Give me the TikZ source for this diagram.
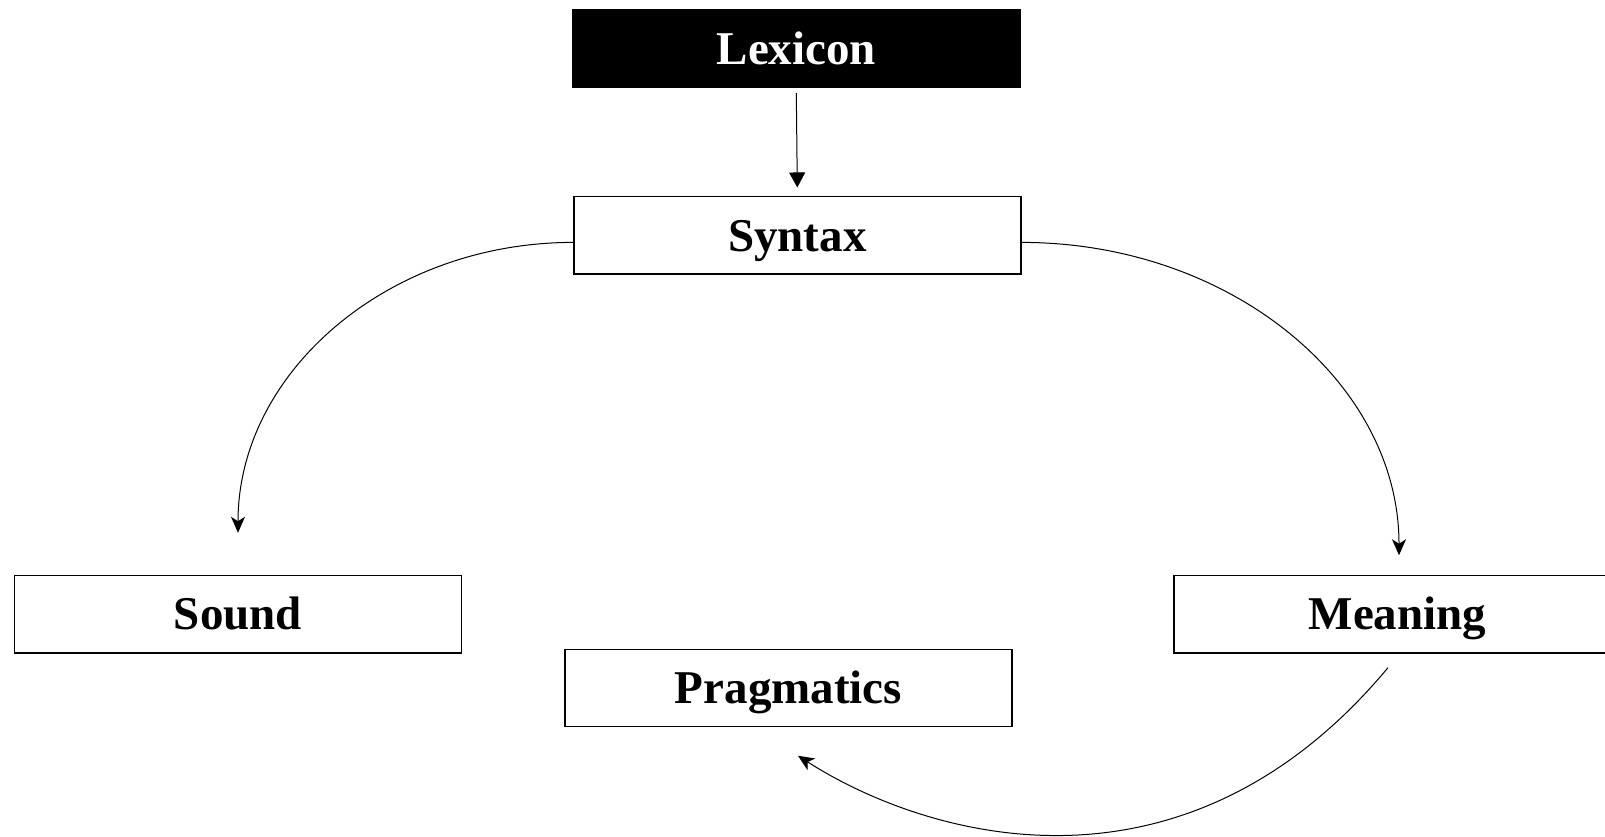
\documentclass[tikz,border=0pt]{standalone}
\usepackage{fontspec}
\setmainfont{Liberation Serif}
\usetikzlibrary{arrows.meta}
\begin{document}
\begin{tikzpicture}[x=1pt,y=-1pt,
  box/.style={draw=black, line width=1.4pt, minimum width=447pt, minimum height=77.5pt,
    inner sep=0pt, font=\fontsize{47}{51}\selectfont\bfseries, text height=31.5pt, text depth=0pt},
  conn/.style={line width=1pt},
  stealthtip/.style={-{Stealth[length=16pt,width=14pt,inset=4.5pt]}},
  tritip/.style={-{Triangle[length=15pt,width=16pt]}}]
\useasboundingbox (0,0) rectangle (1605,836);
\fill[white] (0,0) rectangle (1605,836);
\node[box, fill=black, text=white] (lex) at (796.3,48.6) {Lexicon};
\node[box] (syn) at (797.3,235.4) {Syntax};
\node[box] (snd) at (238,614.2) {Sound};
\node[box] (mea) at (1397.5,614.2) {Meaning};
\node[box] (prag) at (788.5,688) {Pragmatics};
\draw[conn, tritip] ([yshift=-5pt]lex.south) -- ([yshift=8.5pt]syn.north);
\draw[conn, stealthtip] ([yshift=-7pt]syn.west) .. controls +(-185pt,0pt) and +(0pt,160.7pt) .. ([yshift=42pt]snd.north);
\draw[conn, stealthtip] ([yshift=-7pt]syn.east) .. controls +(208.8pt,0pt) and +(0pt,173.1pt) .. ([xshift=1.5pt,yshift=19.5pt]mea.north);
\draw[conn, stealthtip] ([xshift=-9.5pt,yshift=-14pt]mea.south) .. controls +(-205pt,-246pt) and +(128pt,-82pt) .. ([xshift=9.5pt,yshift=-28.3pt]prag.south);
\end{tikzpicture}
\end{document}
